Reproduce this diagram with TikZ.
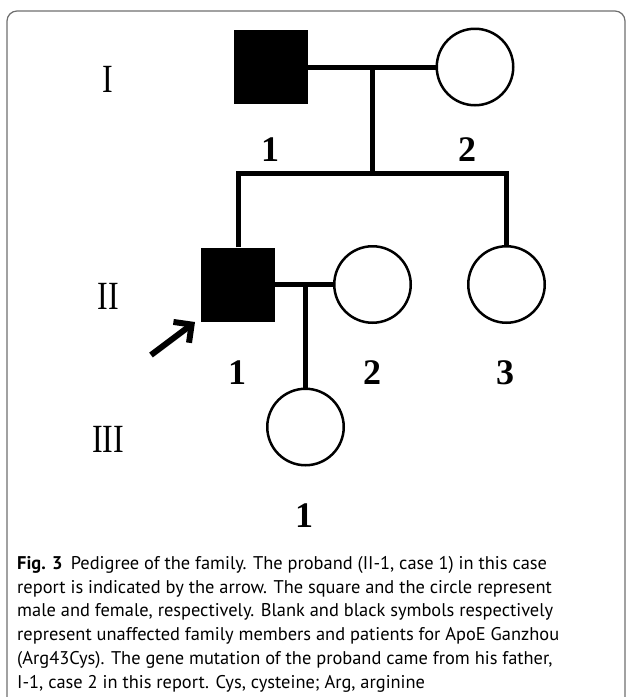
\documentclass[tikz,border=0pt]{standalone}
\usepackage{fontspec}
\setmainfont{Liberation Serif}
\setsansfont{PT Sans}
\usetikzlibrary{positioning}
\usetikzlibrary{calc}
\usetikzlibrary{arrows.meta}
\definecolor{framegray}{RGB}{110,110,110}

\begin{document}
\begin{tikzpicture}
	[
		x = 1pt, y = -1pt,
		male/.style = {rectangle, minimum size = 74pt, inner sep = 0pt, fill = black},
		female/.style = {circle, minimum size = 76.5pt, inner sep = 0pt, line width = 2.5pt, draw = black},
		link/.style = {line width = 5pt},
		gen/.style = {inner sep = 0pt, font = \fontsize{40}{44}\selectfont},
		num/.style = {inner sep = 0pt, font = \fontsize{36}{40}\selectfont\bfseries},
	]
	\useasboundingbox (0,0) rectangle (627,697);
	\draw[framegray, line width = 1.2pt, rounded corners = 10pt] (7,697) -- (7,11) -- (625,11) -- (625,697);

	% generations
	\node (genI) [gen] at (108,79) {\scalebox{0.8}[1]{I}};
	\node (genII) [gen] at (108,296) {\scalebox{0.8}[1]{II}};
	\node (genIII) [gen] at (108,439) {\scalebox{0.8}[1]{III}};

	% persons
	\node (I1) [male] at (271,67) {};
	\node (I2) [female] at (475,67) {};
	\node (II1) [male] at (238,284.5) {};
	\node (II2) [female] at (372.5,284.5) {};
	\node (II3) [female] at (506.5,284.5) {};
	\node (III1) [female] at (305.5,427) {};

	% lines
	\coordinate (mI) at (372,67);
	\coordinate (sib) at (372,173);
	\coordinate (mII) at (305.5,284.5);
	\draw[link] (I1.east) -- (I2.west);
	\draw[link] (mI) -- (sib);
	\draw[link, line join = miter] (II1.north) -- (II1.north |- sib) -- (II3.north |- sib) -- (II3.north);
	\draw[link] (II1.east) -- (II2.west);
	\draw[link] (mII) -- (III1.north);

	% proband
	\coordinate (tail) at (151,355);
	\coordinate (tip) at (195,322);
	\draw[line width = 6pt, -{Straight Barb[length = 13pt, width = 26pt]}] (tail) -- (tip);

	% numbers
	\node (nI1) [num] at (270,150) {1};
	\node (nI2) [num] at (467,150) {2};
	\node (nII1) [num] at (237,373) {1};
	\node (nII2) [num] at (372,373) {2};
	\node (nII3) [num] at (505,373) {3};
	\node (nIII1) [num] at (304,516) {1};

	% caption
	\node (caption) [anchor = north west, inner sep = 0pt, align = left, font = \sffamily\fontsize{18.4}{23.8}\selectfont] at (17,556)
		{\textbf{Fig. 3}\hspace{0.45em}Pedigree of the family. The proband (II-1, case 1) in this case\\
		report is indicated by the arrow. The square and the circle represent\\
		male and female, respectively. Blank and black symbols respectively\\
		represent unaffected family members and patients for ApoE Ganzhou\\
		(Arg43Cys). The gene mutation of the proband came from his father,\\
		I-1, case 2 in this report. Cys, cysteine; Arg, arginine};
\end{tikzpicture}
\end{document}
